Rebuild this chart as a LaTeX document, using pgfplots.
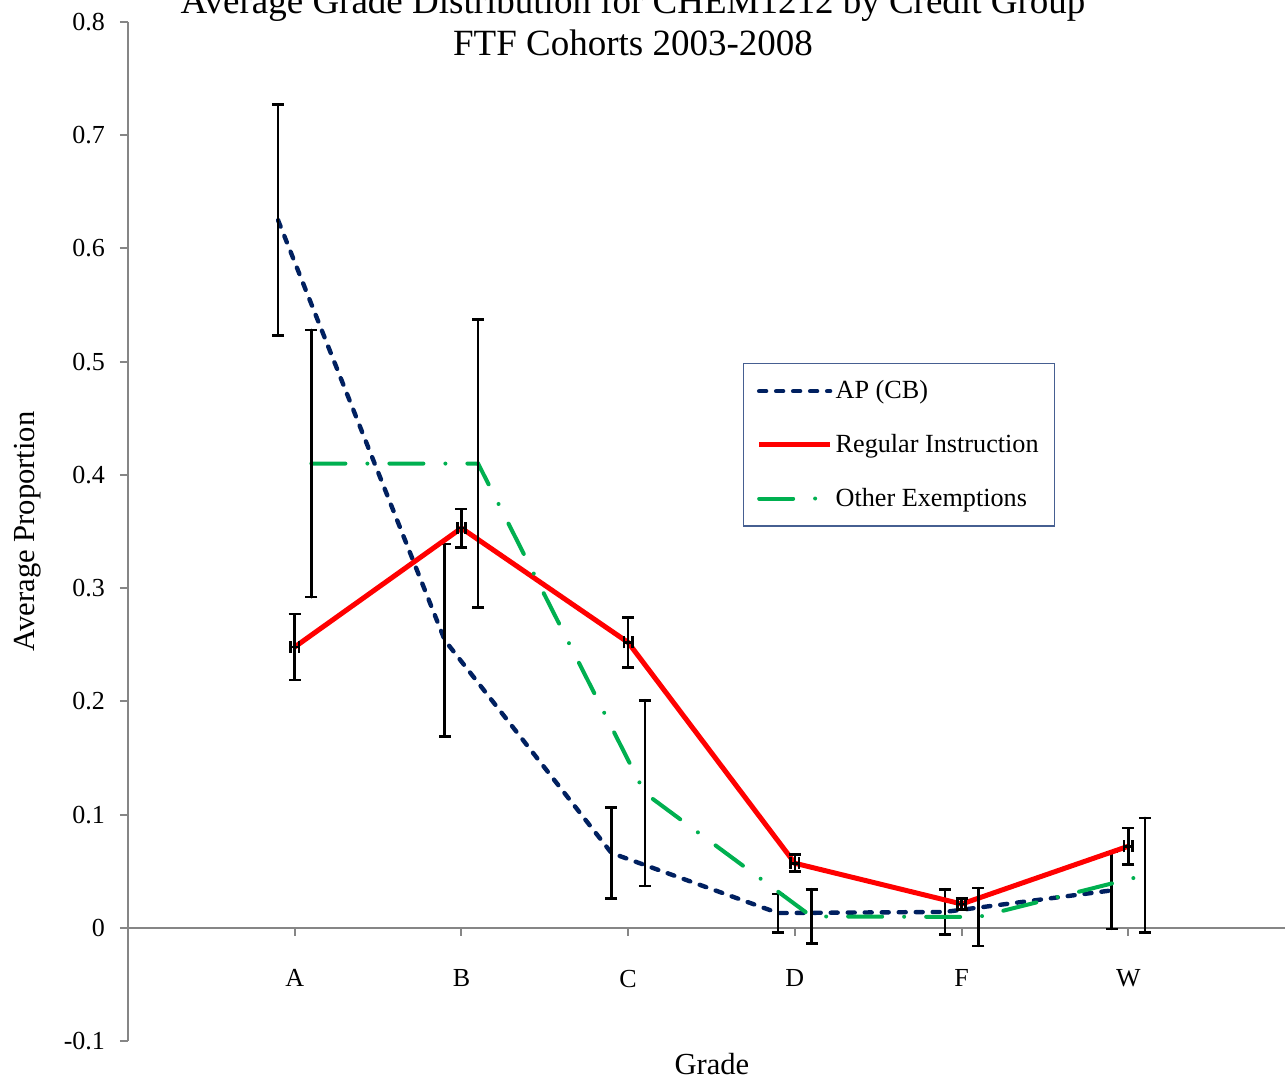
\documentclass[border=0pt]{standalone}
\usepackage{pgfplots}
\pgfplotsset{compat=1.18}
\usepackage{fontspec}
\setmainfont{Liberation Serif}

\definecolor{apblue}{HTML}{002060}
\definecolor{regred}{HTML}{FF0000}
\definecolor{othgreen}{HTML}{00B050}
\definecolor{axisgray}{HTML}{868686}
\definecolor{legblue}{RGB}{70,95,145}

\begin{document}
\begin{tikzpicture}
\begin{axis}[
    width=578.5bp, height=509.5bp, scale only axis,
    xmin=0, xmax=6.94, ymin=-0.1, ymax=0.8,
    axis y line=left, axis x line=middle,
    axis line style={-, draw=axisgray, line width=1bp},
    every inner x axis line/.append style={-},
    every outer y axis line/.append style={-},
    hide obscured y ticks=false,
    xtick={1,2,3,4,5,6},
    xticklabels={A,B,C,D,F,W},
    ytick={-0.1,0,0.1,0.2,0.3,0.4,0.5,0.6,0.7,0.8},
    tick align=outside,
    major tick length=4bp,
    tick style={axisgray, line width=1bp},
    tick label style={font=\fontsize{13bp}{15bp}\selectfont},
    /pgf/number format/assume math mode=true,
    yticklabel style={/pgf/number format/fixed, /pgf/number format/precision=1, xshift=-4bp},
    xticklabel style={yshift=-13.5bp},
    xlabel={Grade},
    xlabel style={at={(axis description cs:0.5047,-0.0324)}, anchor=base,
        font=\fontsize{15.3bp}{18bp}\selectfont},
    ylabel={Average Proportion},
    ylabel style={at={(axis description cs:-0.0864,0.5)}, anchor=center,
        font=\fontsize{15.3bp}{18bp}\selectfont},
    title={Average Grade Distribution for CHEM1212 by Credit Group\\FTF Cohorts 2003-2008},
    title style={at={(axis description cs:0.4365,0.9548)}, anchor=south, align=center,
        inner sep=0pt, font=\fontsize{18.5bp}{21bp}\selectfont},
    legend style={at={(axis description cs:0.5315,0.6654)}, anchor=north west,
        draw=legblue, line width=0.7bp, inner xsep=6.5bp, inner ysep=6.5bp,
        font=\fontsize{13.1bp}{15bp}\selectfont, row sep=12.25bp,
        cells={anchor=west}, nodes={inner xsep=1.5bp}},
    legend image code/.code={\draw[#1] (0bp,0bp) -- (35.5bp,0bp);},
    error bars/error bar style={black, line width=1.3bp, solid},
    error bars/error mark options={black, line width=1.3bp, mark size=3bp, solid, rotate=90},
]
% AP (CB), offset -0.1
\addplot[apblue, line width=2.2bp, line cap=round, dash pattern=on 3.5bp off 5bp,
    error bars/.cd, y dir=both, y explicit]
    coordinates {
    (0.9,0.625) +- (0,0.102)
    (1.9,0.254) +- (0,0.085)
    (2.9,0.066) +- (0,0.040)
    (3.9,0.013) +- (0,0.017)
    (4.9,0.014) +- (0,0.020)
    (5.9,0.033) +- (0,0.034)
    };
\addlegendentry{AP (CB)}
% Regular Instruction
\addplot[regred, line width=2.5bp,
    error bars/.cd, y dir=both, y explicit, x dir=both, x explicit]
    coordinates {
    (1,0.248) +- (0.025,0.029)
    (2,0.353) +- (0.025,0.017)
    (3,0.252) +- (0.025,0.022)
    (4,0.057) +- (0.025,0.0075)
    (5,0.021) +- (0.025,0.005)
    (6,0.072) +- (0.025,0.016)
    };
\addlegendentry{Regular Instruction}
% Other Exemptions, offset +0.1
\addplot[othgreen, line width=2bp, line cap=round,
    dash pattern=on 17bp off 11bp on 0bp off 11bp,
    error bars/.cd, y dir=both, y explicit]
    coordinates {
    (1.1,0.410) +- (0,0.118)
    (2.1,0.410) +- (0,0.127)
    (3.1,0.119) +- (0,0.082)
    (4.1,0.010) +- (0,0.024)
    (5.1,0.0095) +- (0,0.0255)
    (6.1,0.0465) +- (0,0.0505)
    };
\addlegendentry{Other Exemptions}
\coordinate (bbll) at (rel axis cs:0,0);
\end{axis}
\pgfresetboundingbox
\path[use as bounding box] ([shift={(-64bp,-20bp)}]bbll) rectangle ++(642.5bp,540.5bp);
\end{tikzpicture}
\end{document}
